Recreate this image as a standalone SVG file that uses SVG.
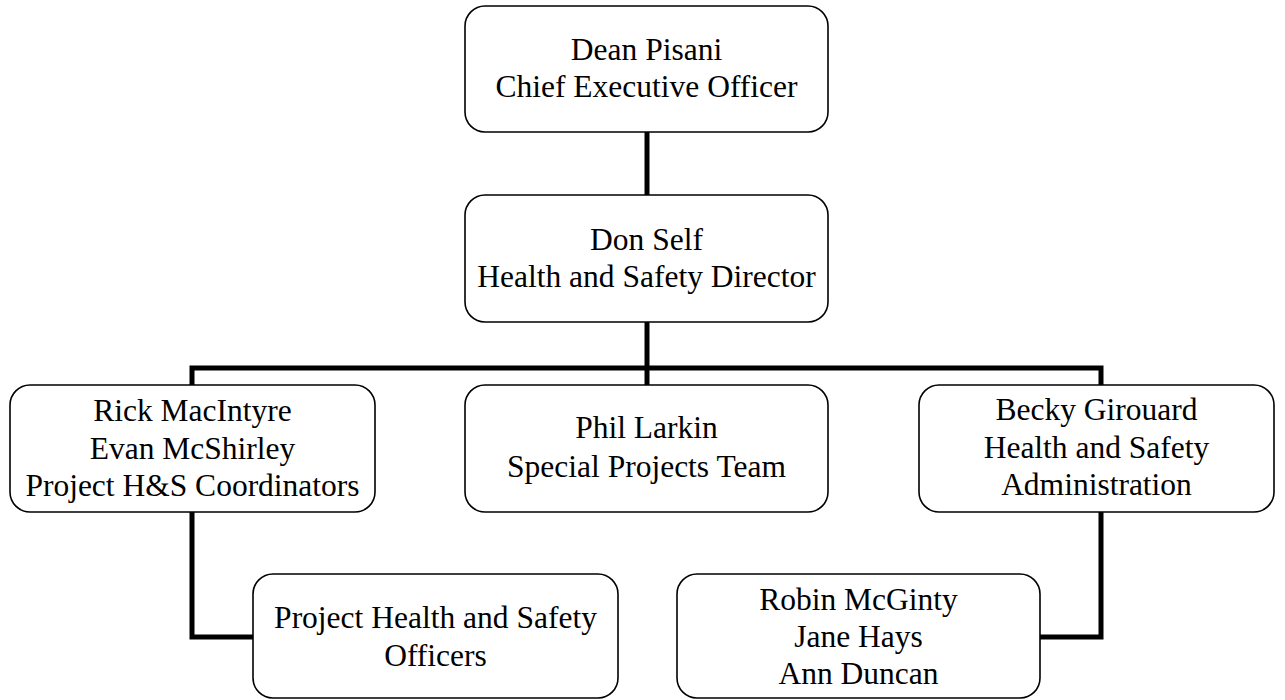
<svg xmlns="http://www.w3.org/2000/svg" width="1285" height="700" viewBox="0 0 1285 700">
<style>
.box{fill:#fff;stroke:#000;stroke-width:1.6}
.t{font-family:'Liberation Serif','DejaVu Serif',serif;font-size:31.5px;fill:#000;text-anchor:middle}
.c{fill:none;stroke:#000;stroke-width:5;stroke-linejoin:miter}
</style>
<rect width="1285" height="700" fill="#fff"/>
<g id="connectors">
<path class="c" d="M647 132V195"/>
<path class="c" d="M647 322V385"/>
<path class="c" d="M192 385V368H1101V385"/>
<path class="c" d="M192 512V637H253"/>
<path class="c" d="M1101 512V637H1040"/>
</g>
<g id="ceo">
<rect class="box" x="465" y="6" width="363" height="126" rx="20"/>
<text class="t" x="646.5" y="60">Dean Pisani</text>
<text class="t" x="646.5" y="97">Chief Executive Officer</text>
</g>
<g id="director">
<rect class="box" x="465" y="195" width="363" height="127" rx="20"/>
<text class="t" x="646.5" y="250">Don Self</text>
<text class="t" x="646.5" y="287">Health and Safety Director</text>
</g>
<g id="coordinators">
<rect class="box" x="10" y="385" width="365" height="127" rx="20"/>
<text class="t" x="192.5" y="421">Rick MacIntyre</text>
<text class="t" x="192.5" y="458.5">Evan McShirley</text>
<text class="t" x="192.5" y="496">Project H&amp;S Coordinators</text>
</g>
<g id="special">
<rect class="box" x="465" y="385" width="363" height="127" rx="20"/>
<text class="t" x="646.5" y="438">Phil Larkin</text>
<text class="t" x="646.5" y="477">Special Projects Team</text>
</g>
<g id="admin">
<rect class="box" x="919" y="385" width="355" height="127" rx="20"/>
<text class="t" x="1096.5" y="420">Becky Girouard</text>
<text class="t" x="1096.5" y="458">Health and Safety</text>
<text class="t" x="1096.5" y="495">Administration</text>
</g>
<g id="officers">
<rect class="box" x="253" y="574" width="365" height="124" rx="20"/>
<text class="t" x="435.5" y="628">Project Health and Safety</text>
<text class="t" x="435.5" y="666">Officers</text>
</g>
<g id="staff">
<rect class="box" x="677" y="574" width="363" height="124" rx="20"/>
<text class="t" x="858.5" y="610">Robin McGinty</text>
<text class="t" x="858.5" y="647">Jane Hays</text>
<text class="t" x="858.5" y="684">Ann Duncan</text>
</g>
</svg>
